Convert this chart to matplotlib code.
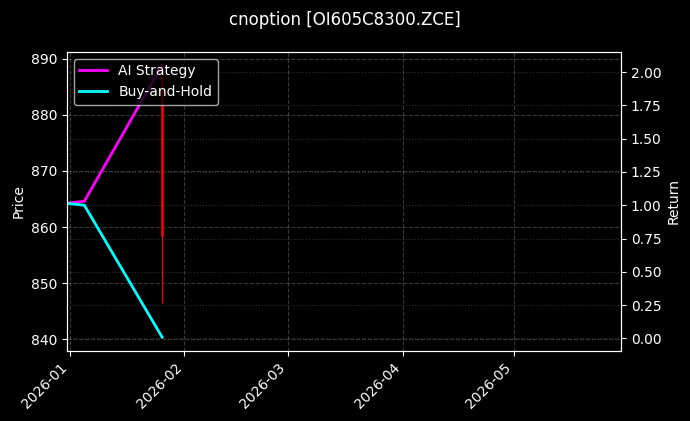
import numpy as np
import pandas as pd
import matplotlib
matplotlib.use('Agg')
import matplotlib.pyplot as plt
import matplotlib.dates as mdates

# data
dates = pd.to_datetime(['2025-12-31', '2026-01-05', '2026-01-26'])
ai_strategy = [1.015, 1.03, 2.05]
buy_and_hold = [1.015, 1.0, 0.01]

candle_date = pd.to_datetime(['2026-01-26'])
candle_open = [888.8]
candle_close = [858.4]
candle_high = [888.8]
candle_low = [846.5]

title = 'cnoption [OI605C8300.ZCE]'

plt.style.use('dark_background')
fig, ax1 = plt.subplots(figsize=(6.9, 4.21), dpi=100)
fig.subplots_adjust(left=0.097, right=0.9, bottom=0.167, top=0.877)

# candle on price axis
ax1.vlines(candle_date, candle_low, candle_high, color='red', linewidth=0.9)
ax1.vlines(candle_date, candle_close, candle_open, color='red', linewidth=1.8)
ax1.set_ylabel('Price')
ax1.set_ylim(838.0, 891.2)
ax1.grid(True, linestyle='--', alpha=0.22)

ax2 = ax1.twinx()
ax2.plot(dates, ai_strategy, color='magenta', linewidth=2, label='AI Strategy')
ax2.plot(dates, buy_and_hold, color='cyan', linewidth=2, label='Buy-and-Hold')
ax2.set_ylabel('Return')
ax2.grid(True, linestyle=':', alpha=0.18)
ax2.legend(loc='upper left')

ax1.set_xlim(pd.Timestamp('2025-12-31 07:00'), pd.Timestamp('2026-05-30'))
ax1.xaxis.set_major_locator(mdates.MonthLocator())
ax1.xaxis.set_major_formatter(mdates.DateFormatter('%Y-%m'))
plt.setp(ax1.get_xticklabels(), rotation=45, ha='right')

fig.suptitle(title, fontsize=12, y=0.975)
fig.savefig('out.png', dpi=100)
